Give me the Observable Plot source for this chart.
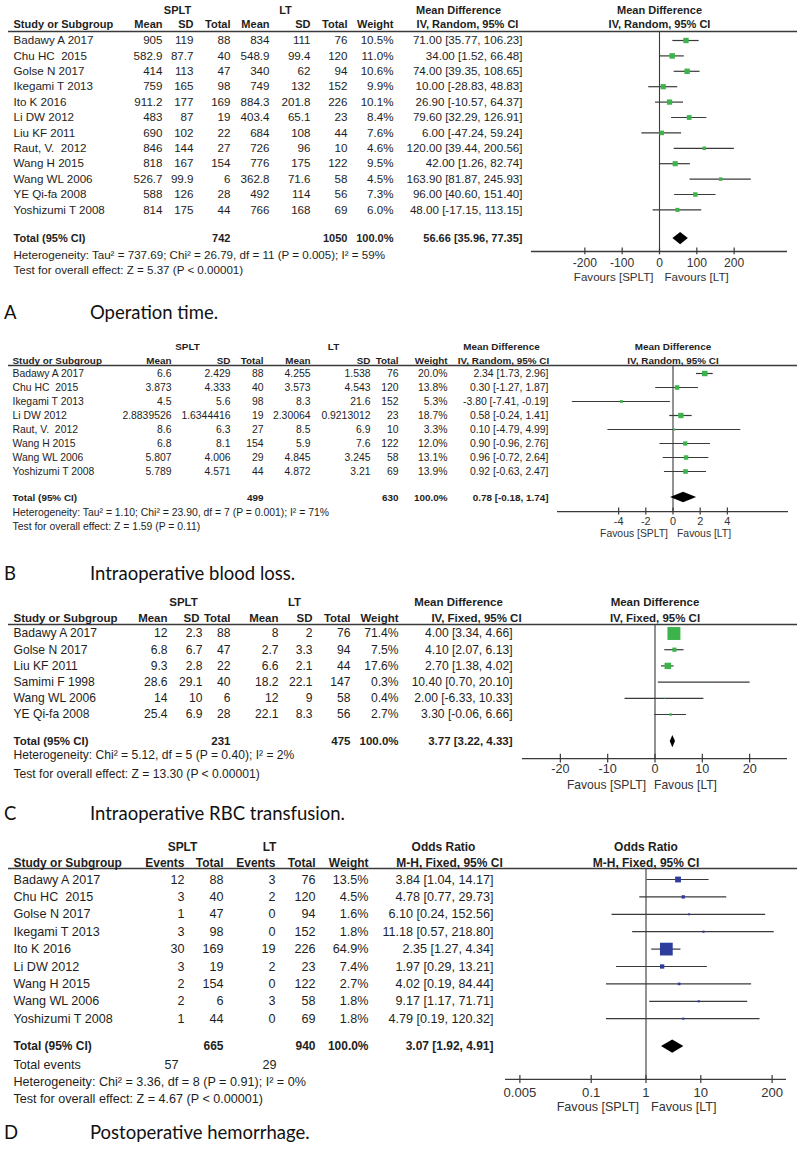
<!DOCTYPE html>
<html><head><meta charset="utf-8">
<script src="https://cdn.jsdelivr.net/npm/d3@7"></script>
<script src="https://cdn.jsdelivr.net/npm/@observablehq/plot@0.6"></script>
<style>
body{margin:0;background:#fff;}
#fig{position:relative;width:800px;height:1155px;overflow:hidden;background:#fff;}
.panel{position:absolute;left:0;width:800px;}
.cap{position:absolute;left:0;width:800px;height:22px;line-height:22px;font-family:Lato,'Open Sans',sans-serif;font-size:18.5px;color:#111;}
.cap .l{position:absolute;left:4px;}
.cap .t{position:absolute;left:90px;white-space:nowrap;}
</style></head><body><div id="fig"></div>
<script>
// ---------- Panel A: Operation time ----------
const studiesA = ["Badawy A 2017","Chu HC  2015","Golse N 2017","Ikegami T 2013","Ito K 2016","Li DW 2012","Liu KF 2011","Raut, V.  2012","Wang H 2015","Wang WL 2006","YE Qi-fa 2008","Yoshizumi T 2008"];
const spltMeanA = [905,582.9,414,759,911.2,483,690,846,818,526.7,588,814];
const spltSdA = [119,87.7,113,165,177,87,102,144,167,99.9,126,175];
const spltNA = [88,40,47,98,169,19,22,27,154,6,28,44];
const ltMeanA = [834,548.9,340,749,884.3,403.4,684,726,776,362.8,492,766];
const ltSdA = [111,99.4,62,132,201.8,65.1,108,96,175,71.6,114,168];
const ltNA = [76,120,94,152,226,23,44,10,122,58,56,69];
const weightA = [10.5,11.0,10.6,9.9,10.1,8.4,7.6,4.6,9.5,4.5,7.3,6.0];
const mdA = [71.00,34.00,74.00,10.00,26.90,79.60,6.00,120.00,42.00,163.90,96.00,48.00];
const loA = [35.77,1.52,39.35,-28.83,-10.57,32.29,-47.24,39.44,1.26,81.87,40.60,-17.15];
const hiA = [106.23,66.48,108.65,48.83,64.37,126.91,59.24,200.56,82.74,245.93,151.40,113.15];
const totalsA = [742,1050];
const overallA = [56.66,35.96,77.35];
const notesA = ["Heterogeneity: Tau² = 737.69; Chi² = 26.79, df = 11 (P = 0.005); I² = 59%","Test for overall effect: Z = 5.37 (P < 0.00001)"];
const ticksA = [-200,-100,0,100,200];
const favA = ["Favours [SPLT]","Favours [LT]"];

// ---------- Panel B: Intraoperative blood loss ----------
const studiesB = ["Badawy A 2017","Chu HC  2015","Ikegami T 2013","Li DW 2012","Raut, V.  2012","Wang H 2015","Wang WL 2006","Yoshizumi T 2008"];
const spltMeanB = [6.6,3.873,4.5,2.8839526,8.6,6.8,5.807,5.789];
const spltSdB = [2.429,4.333,5.6,1.6344416,6.3,8.1,4.006,4.571];
const spltNB = [88,40,98,19,27,154,29,44];
const ltMeanB = [4.255,3.573,8.3,2.30064,8.5,5.9,4.845,4.872];
const ltSdB = [1.538,4.543,21.6,0.9213012,6.9,7.6,3.245,3.21];
const ltNB = [76,120,152,23,10,122,58,69];
const weightB = [20.0,13.8,5.3,18.7,3.3,12.0,13.1,13.9];
const mdB = [2.34,0.30,-3.80,0.58,0.10,0.90,0.96,0.92];
const loB = [1.73,-1.27,-7.41,-0.24,-4.79,-0.96,-0.72,-0.63];
const hiB = [2.96,1.87,-0.19,1.41,4.99,2.76,2.64,2.47];
const totalsB = [499,630];
const overallB = [0.78,-0.18,1.74];
const notesB = ["Heterogeneity: Tau² = 1.10; Chi² = 23.90, df = 7 (P = 0.001); I² = 71%","Test for overall effect: Z = 1.59 (P = 0.11)"];
const ticksB = [-4,-2,0,2,4];
const favB = ["Favous [SPLT]","Favous [LT]"];

// ---------- Panel C: Intraoperative RBC transfusion ----------
const studiesC = ["Badawy A 2017","Golse N 2017","Liu KF 2011","Samimi F 1998","Wang WL 2006","YE Qi-fa 2008"];
const spltMeanC = [12,6.8,9.3,28.6,14,25.4];
const spltSdC = [2.3,6.7,2.8,29.1,10,6.9];
const spltNC = [88,47,22,40,6,28];
const ltMeanC = [8,2.7,6.6,18.2,12,22.1];
const ltSdC = [2,3.3,2.1,22.1,9,8.3];
const ltNC = [76,94,44,147,58,56];
const weightC = [71.4,7.5,17.6,0.3,0.4,2.7];
const mdC = [4.00,4.10,2.70,10.40,2.00,3.30];
const loC = [3.34,2.07,1.38,0.70,-6.33,-0.06];
const hiC = [4.66,6.13,4.02,20.10,10.33,6.66];
const totalsC = [231,475];
const overallC = [3.77,3.22,4.33];
const notesC = ["Heterogeneity: Chi² = 5.12, df = 5 (P = 0.40); I² = 2%","Test for overall effect: Z = 13.30 (P < 0.00001)"];
const ticksC = [-20,-10,0,10,20];
const favC = ["Favous [SPLT]","Favous [LT]"];

// ---------- Panel D: Postoperative hemorrhage ----------
const studiesD = ["Badawy A 2017","Chu HC  2015","Golse N 2017","Ikegami T 2013","Ito K 2016","Li DW 2012","Wang H 2015","Wang WL 2006","Yoshizumi T 2008"];
const spltEventsD = [12,3,1,3,30,3,2,2,1];
const spltND = [88,40,47,98,169,19,154,6,44];
const ltEventsD = [3,2,0,0,19,2,0,3,0];
const ltND = [76,120,94,152,226,23,122,58,69];
const weightD = [13.5,4.5,1.6,1.8,64.9,7.4,2.7,1.8,1.8];
const orD = [3.84,4.78,6.10,11.18,2.35,1.97,4.02,9.17,4.79];
const loD = [1.04,0.77,0.24,0.57,1.27,0.29,0.19,1.17,0.19];
const hiD = [14.17,29.73,152.56,218.80,4.34,13.21,84.44,71.71,120.32];
const totalsD = [665,940];
const totalEventsD = [57,29];
const overallD = [3.07,1.92,4.91];
const notesD = ["Heterogeneity: Chi² = 3.36, df = 8 (P = 0.91); I² = 0%","Test for overall effect: Z = 4.67 (P < 0.00001)"];
const ticksD = [0.005,0.1,1,10,200];
const favD = ["Favous [SPLT]","Favous [LT]"];

const captions = [["A","Operation time."],["B","Intraoperative blood loss."],["C","Intraoperative RBC transfusion."],["D","Postoperative hemorrhage."]];

// ---------- drawing ----------
const F = "'Liberation Sans', Arial, Helvetica, sans-serif";
const green = "#3cb44b", blue = "#2e3d9c", ink = "#1e1e1e", lineC = "#3a3a3a";
const fmtN = v => String(v);
const fmtW = v => v.toFixed(1) + "%";
const fmtCI = (e, l, h) => `${e.toFixed(2)} [${l.toFixed(2)}, ${h.toFixed(2)}]`;

function build(c) {
  const n = c.studies.length;
  const rows = d3.range(n).map(i => ({i}));
  const base = {fontSize: c.fontSize, fontFamily: F, fill: ink, frameAnchor: "left"};
  const T = (data, o) => Plot.text(data, {...base, ...o});
  const one = (t, o) => T([t], {text: d => d, ...o});
  const B = {fontWeight: "bold", fontSize: c.fontSize * 0.95};
  const marks = [];
  // header underline and null line
  marks.push(Plot.ruleY([c.ul], {insetLeft: 8, insetRight: 3, stroke: lineC, strokeWidth: 1.6}));
  marks.push(Plot.ruleX([c.nullValue], {y1: c.ul, y2: c.axisIdx, stroke: lineC, strokeWidth: 1.1}));
  // headers
  c.groupHeads.forEach(([t, x]) => marks.push(one(t, {y: c.h1, dx: x, textAnchor: "middle", ...B})));
  marks.push(one(c.effHead[0], {y: c.h1, dx: c.effHeadX[0], textAnchor: "middle", ...B}));
  marks.push(one(c.effHead[1], {y: c.h2, dx: c.effHeadX[1], textAnchor: "middle", ...B}));
  marks.push(one(c.effHead[0], {x: c.nullValue, y: c.h1, textAnchor: "middle", ...B}));
  marks.push(one(c.effHead[1], {x: c.nullValue, y: c.h2, textAnchor: "middle", ...B}));
  marks.push(one("Study or Subgroup", {y: c.h2, dx: c.nameX, textAnchor: "start", ...B}));
  c.cols.forEach(col => marks.push(one(col.head, {y: c.h2, dx: col.hx ?? col.x, textAnchor: "end", ...B})));
  // study rows
  marks.push(T(rows, {y: "i", text: d => c.studies[d.i], dx: c.nameX, textAnchor: "start"}));
  c.cols.forEach(col => marks.push(T(rows, {y: "i", text: d => col.fmt(col.values[d.i]), dx: col.x, textAnchor: "end"})));
  marks.push(T(rows, {y: "i", text: d => fmtCI(c.est[d.i], c.lo[d.i], c.hi[d.i]), dx: c.ciX, textAnchor: "end"}));
  // total row
  marks.push(one("Total (95% CI)", {y: c.totalIdx, dx: c.nameX, textAnchor: "start", ...B}));
  c.totalCells.forEach(([v, x]) => marks.push(one(String(v), {y: c.totalIdx, dx: x, textAnchor: "end", ...B})));
  marks.push(one("100.0%", {y: c.totalIdx, dx: c.weightX, textAnchor: "end", ...B}));
  marks.push(one(fmtCI(...c.overall), {y: c.totalIdx, dx: c.ciX, textAnchor: "end", ...B}));
  (c.extraRows || []).forEach(r => {
    marks.push(one(r.label, {y: r.idx, dx: c.nameX, textAnchor: "start"}));
    r.cells.forEach(([v, x]) => marks.push(one(String(v), {y: r.idx, dx: x, textAnchor: "end"})));
  });
  c.notes.forEach(([t, idx]) => marks.push(one(t, {y: idx, dx: c.nameX, textAnchor: "start"})));
  // forest
  marks.push(Plot.ruleY(rows, {y: "i", x1: d => c.lo[d.i], x2: d => c.hi[d.i], stroke: lineC, strokeWidth: 1.2}));
  marks.push(Plot.dot(rows, {x: d => c.est[d.i], y: "i", r: d => c.weights[d.i], symbol: "square", fill: c.color}));
  const dia = [{x: c.overall[1], h: 0}, {x: c.overall[0], h: 1}, {x: c.overall[2], h: 0}];
  marks.push(Plot.areaY(dia, {x: "x", y1: d => c.totalIdx - c.dh * d.h, y2: d => c.totalIdx + c.dh * d.h, fill: "#000"}));
  // axis
  marks.push(Plot.ruleY([c.axisIdx], {x1: c.x.domain[0], x2: c.x.domain[1], stroke: lineC, strokeWidth: 1.3}));
  marks.push(Plot.ruleX(c.ticks, {x: d => d, y1: c.axisIdx - c.tickLen, y2: c.axisIdx + c.tickLen, stroke: lineC, strokeWidth: 1.2}));
  marks.push(Plot.text(c.ticks, {x: d => d, y: c.axisIdx, dy: c.tickDy, text: d => String(d), fontSize: c.fontSize + 0.5, fontFamily: F, fill: "#333"}));
  marks.push(one(c.fav[0], {x: c.nullValue, y: c.axisIdx, dy: c.favDy, dx: c.favDx[0], textAnchor: "end", fill: "#333"}));
  marks.push(one(c.fav[1], {x: c.nullValue, y: c.axisIdx, dy: c.favDy, dx: c.favDx[1], textAnchor: "start", fill: "#333"}));

  const svg = Plot.plot({
    width: 800, height: c.height,
    marginTop: 0, marginRight: 0, marginBottom: 0, marginLeft: 0,
    x: {...c.x, axis: null},
    y: {type: "linear", domain: [0, 1], range: [c.row0, c.row0 + c.step], axis: null},
    r: {type: "sqrt", domain: [0, d3.max(c.weights)], range: [0, c.rMax]},
    style: {fontFamily: F, background: "transparent", overflow: "visible"},
    marks
  });
  const wrap = document.createElement("div");
  wrap.className = "panel";
  wrap.style.top = c.top + "px";
  wrap.appendChild(svg);
  return wrap;
}

const mdCols = (m1, s1, n1, m2, s2, n2, w, xs) => [
  {head: "Mean", values: m1, x: xs[0], fmt: fmtN},
  {head: "SD", values: s1, x: xs[1], fmt: fmtN},
  {head: "Total", values: n1, x: xs[2], fmt: fmtN},
  {head: "Mean", values: m2, x: xs[3], fmt: fmtN},
  {head: "SD", values: s2, x: xs[4], fmt: fmtN},
  {head: "Total", values: n2, x: xs[5], fmt: fmtN},
  {head: "Weight", values: w, x: xs[6], fmt: fmtW}
];

const colsC = mdCols(spltMeanC, spltSdC, spltNC, ltMeanC, ltSdC, ltNC, weightC, [167,202,230,278,312,350,398]);
colsC[1].hx = 199;

const panels = [
  { // A
    top: 0, height: 292, row0: 40, step: 15.4, fontSize: 11.6,
    h1: -1.95, h2: -1.04, ul: -0.58, nameX: 13,
    groupHeads: [["SPLT", 177], ["LT", 285]],
    effHead: ["Mean Difference", "IV, Random, 95% CI"], effHeadX: [458, 467],
    cols: mdCols(spltMeanA, spltSdA, spltNA, ltMeanA, ltSdA, ltNA, weightA, [162,193,230,269,310,347,393]),
    weightX: 393, ciX: 522,
    studies: studiesA, est: mdA, lo: loA, hi: hiA, weights: weightA, color: green, rMax: 3.1,
    x: {type: "linear", domain: [-343, 343], range: [531, 787]}, nullValue: 0, ticks: ticksA,
    totalIdx: 12.86, dh: 0.4, overall: overallA,
    totalCells: [[totalsA[0], 230], [totalsA[1], 347]],
    notes: [[notesA[0], 13.96], [notesA[1], 14.94]],
    axisIdx: 13.7, tickLen: 0.22, tickDy: 12, favDy: 26, fav: favA, favDx: [-6, 5]
  },
  { // B
    top: 330, height: 215, row0: 43, step: 14.0, fontSize: 10.4,
    h1: -1.9, h2: -0.93, ul: -0.57, nameX: 12,
    groupHeads: [["SPLT", 187], ["LT", 333]],
    effHead: ["Mean Difference", "IV, Random, 95% CI"], effHeadX: [501, 503],
    cols: mdCols(spltMeanB, spltSdB, spltNB, ltMeanB, ltSdB, ltNB, weightB, [171,230,263,310,370,398,447]),
    weightX: 447, ciX: 548,
    studies: studiesB, est: mdB, lo: loB, hi: hiB, weights: weightB, color: green, rMax: 3.1,
    x: {type: "linear", domain: [-8.5, 8.5], range: [557, 788]}, nullValue: 0, ticks: ticksB,
    totalIdx: 8.86, dh: 0.38, overall: overallB,
    totalCells: [[totalsB[0], 263], [totalsB[1], 398]],
    notes: [[notesB[0], 9.93], [notesB[1], 10.93]],
    axisIdx: 9.86, tickLen: 0.25, tickDy: 10, favDy: 22, fav: favB, favDx: [-5, 4]
  },
  { // C
    top: 590, height: 205, row0: 43, step: 16.2, fontSize: 12.1,
    h1: -1.91, h2: -0.93, ul: -0.56, nameX: 13,
    groupHeads: [["SPLT", 183], ["LT", 294]],
    effHead: ["Mean Difference", "IV, Fixed, 95% CI"], effHeadX: [458, 476],
    cols: colsC,
    weightX: 398, ciX: 512,
    studies: studiesC, est: mdC, lo: loC, hi: hiC, weights: weightC, color: green, rMax: 7.3,
    x: {type: "linear", domain: [-28, 28], range: [522, 787]}, nullValue: 0, ticks: ticksC,
    totalIdx: 6.67, dh: 0.38, overall: overallC,
    totalCells: [[totalsC[0], 230], [totalsC[1], 350]],
    notes: [[notesC[0], 7.53], [notesC[1], 8.66]],
    axisIdx: 7.72, tickLen: 0.27, tickDy: 10, favDy: 27, fav: favC, favDx: [-9, -1]
  },
  { // D
    top: 835, height: 285, row0: 44, step: 17.4, fontSize: 12.6,
    h1: -1.84, h2: -0.92, ul: -0.63, nameX: 13,
    groupHeads: [["SPLT", 182], ["LT", 269]],
    effHead: ["Odds Ratio", "M-H, Fixed, 95% CI"], effHeadX: [443, 449],
    cols: [
      {head: "Events", values: spltEventsD, x: 184, fmt: fmtN},
      {head: "Total", values: spltND, x: 223, fmt: fmtN},
      {head: "Events", values: ltEventsD, x: 275, fmt: fmtN},
      {head: "Total", values: ltND, x: 315, fmt: fmtN},
      {head: "Weight", values: weightD, x: 368, fmt: fmtW}
    ],
    weightX: 368, ciX: 493,
    studies: studiesD, est: orD, lo: loD, hi: hiD, weights: weightD, color: blue, rMax: 7.2,
    x: {type: "log", domain: [1/366, 366], range: [505, 786]}, nullValue: 1, ticks: ticksD,
    totalIdx: 9.6, dh: 0.38, overall: overallD,
    totalCells: [[totalsD[0], 223], [totalsD[1], 315]],
    extraRows: [{label: "Total events", idx: 10.63, cells: [[totalEventsD[0], 178], [totalEventsD[1], 276]]}],
    notes: [[notesD[0], 11.61], [notesD[1], 12.64]],
    axisIdx: 11.49, tickLen: 0.23, tickDy: 13, favDy: 28, fav: favD, favDx: [-7, 5]
  }
];

const fig = document.getElementById("fig");
panels.forEach(p => fig.appendChild(build(p)));
const capTops = [301, 562, 802, 1121];
captions.forEach(([l, t], k) => {
  const d = document.createElement("div");
  d.className = "cap";
  d.style.top = capTops[k] + "px";
  d.innerHTML = `<span class="l"></span><span class="t"></span>`;
  d.querySelector(".l").textContent = l;
  d.querySelector(".t").textContent = t;
  fig.appendChild(d);
});
</script></body></html>
